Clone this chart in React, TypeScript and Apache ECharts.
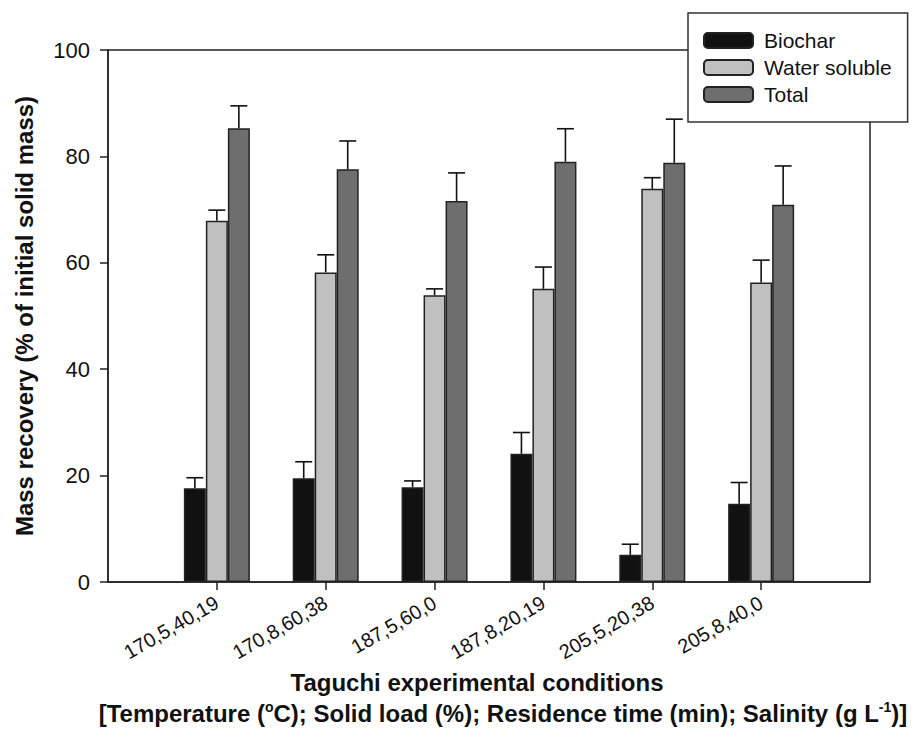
import React, { useEffect, useRef } from "react";
import * as echarts from "echarts";

const categories = ["170,5,40,19", "170,8,60,38", "187,5,60,0", "187,8,20,19", "205,5,20,38", "205,8,40,0"];
const seriesNames = ["Biochar", "Water soluble", "Total"];
const biochar = [17.6, 19.5, 17.8, 24.1, 5.1, 14.7];
const biocharUpper = [19.6, 22.6, 19.0, 28.1, 7.1, 18.7];
const waterSoluble = [67.9, 58.2, 53.9, 55.1, 73.9, 56.3];
const waterSolubleUpper = [69.9, 61.5, 55.1, 59.2, 76.0, 60.5];
const total = [85.3, 77.6, 71.6, 79.0, 78.8, 70.9];
const totalUpper = [89.5, 82.9, 76.9, 85.2, 87.0, 78.2];
const yTicks = { min: 0, max: 100, interval: 20 };

const colors = ["#111111", "#c0c0c0", "#6e6e6e"];
const FONT = "'Liberation Sans', Arial, sans-serif";

export default function App() {
  const ref = useRef<HTMLDivElement>(null);
  useEffect(() => {
    if (!ref.current) return;
    const chart = echarts.init(ref.current, null, { renderer: "svg" });
    const xData = ["", ...categories, ""];
    const values = [biochar, waterSoluble, total];
    const uppers = [biocharUpper, waterSolubleUpper, totalUpper];
    const barW = 22;

    const barSeries = seriesNames.map((name, k) => ({
      name,
      type: "bar",
      data: ["-", ...values[k], "-"],
      barWidth: barW,
      barGap: "0%",
      itemStyle: { color: colors[k], borderColor: "#222", borderWidth: 1.5 },
      z: 2,
    }));

    const errSeries = seriesNames.map((name, k) => ({
      name: name + " err",
      type: "custom",
      data: values[k].map((v, i) => [i + 1, v, uppers[k][i]]),
      encode: { x: 0, y: [1, 2] },
      z: 3,
      silent: true,
      renderItem: (params: any, api: any) => {
        const x = api.value(0);
        const p0 = api.coord([x, api.value(1)]);
        const p1 = api.coord([x, api.value(2)]);
        const cx = p0[0] + (k - 1) * barW;
        const st = { stroke: "#111", lineWidth: 1.6 };
        return {
          type: "group",
          children: [
            { type: "line", shape: { x1: cx, y1: p0[1], x2: cx, y2: p1[1] }, style: st },
            { type: "line", shape: { x1: cx - 8.5, y1: p1[1], x2: cx + 8.5, y2: p1[1] }, style: st },
          ],
        };
      },
    }));

    chart.setOption({
      animation: false,
      backgroundColor: "#ffffff",
      textStyle: { fontFamily: FONT },
      grid: {
        left: 108,
        right: 51,
        top: 50,
        bottom: 172,
        show: true,
        borderColor: "#222",
        borderWidth: 1.5,
        backgroundColor: "transparent",
      },
      legend: {
        data: seriesNames,
        orient: "vertical",
        left: 688,
        top: 13,
        padding: [17, 16, 17, 15],
        itemWidth: 49,
        itemHeight: 15,
        itemGap: 6,
        backgroundColor: "#ffffff",
        borderColor: "#333",
        borderWidth: 1.5,
        borderRadius: 0,
        textStyle: { fontSize: 21, color: "#111", fontFamily: FONT, padding: [0, 0, 0, 6] },
      },
      xAxis: {
        type: "category",
        data: xData,
        boundaryGap: false,
        axisLine: { show: true, lineStyle: { color: "#222", width: 1.5 } },
        axisTick: {
          show: true,
          length: 8,
          lineStyle: { color: "#222", width: 1.5 },
          interval: (i: number) => i > 0 && i < xData.length - 1,
        },
        axisLabel: {
          rotate: 30,
          fontSize: 20,
          color: "#111",
          margin: 19,
          fontFamily: FONT,
          interval: 0,
        },
        splitLine: { show: false },
      },
      yAxis: {
        type: "value",
        min: yTicks.min,
        max: yTicks.max,
        interval: yTicks.interval,
        name: "Mass recovery (% of initial solid mass)",
        nameLocation: "middle",
        nameGap: 72,
        nameTextStyle: { fontSize: 24, fontWeight: "bold", color: "#111", fontFamily: FONT },
        axisLine: { show: true, lineStyle: { color: "#222", width: 1.5 } },
        axisTick: { show: true, length: 8, lineStyle: { color: "#222", width: 1.5 } },
        axisLabel: { fontSize: 22, color: "#111", margin: 18, fontFamily: FONT },
        splitLine: { show: false },
      },
      graphic: [
        {
          type: "text",
          x: 477,
          y: 682,
          style: {
            text: "Taguchi experimental conditions",
            font: `bold 24px ${FONT}`,
            fill: "#111",
            textAlign: "center",
            textVerticalAlign: "middle",
          },
        },
        {
          type: "text",
          x: 503,
          y: 713,
          style: {
            text: "[Temperature ({sup|o}C); Solid load (%); Residence time (min); Salinity (g L{sup|-1})]",
            font: `bold 24px ${FONT}`,
            fill: "#111",
            textAlign: "center",
            textVerticalAlign: "middle",
            rich: {
              sup: { fontSize: 14, fontWeight: "bold", fontFamily: FONT, verticalAlign: "top", fill: "#111", lineHeight: 26 },
            },
          },
        },
      ],
      series: [...barSeries, ...errSeries],
    });
    return () => chart.dispose();
  }, []);
  return <div ref={ref} style={{ position: "fixed", left: 0, top: 0, width: 921, height: 754 }} />;
}
